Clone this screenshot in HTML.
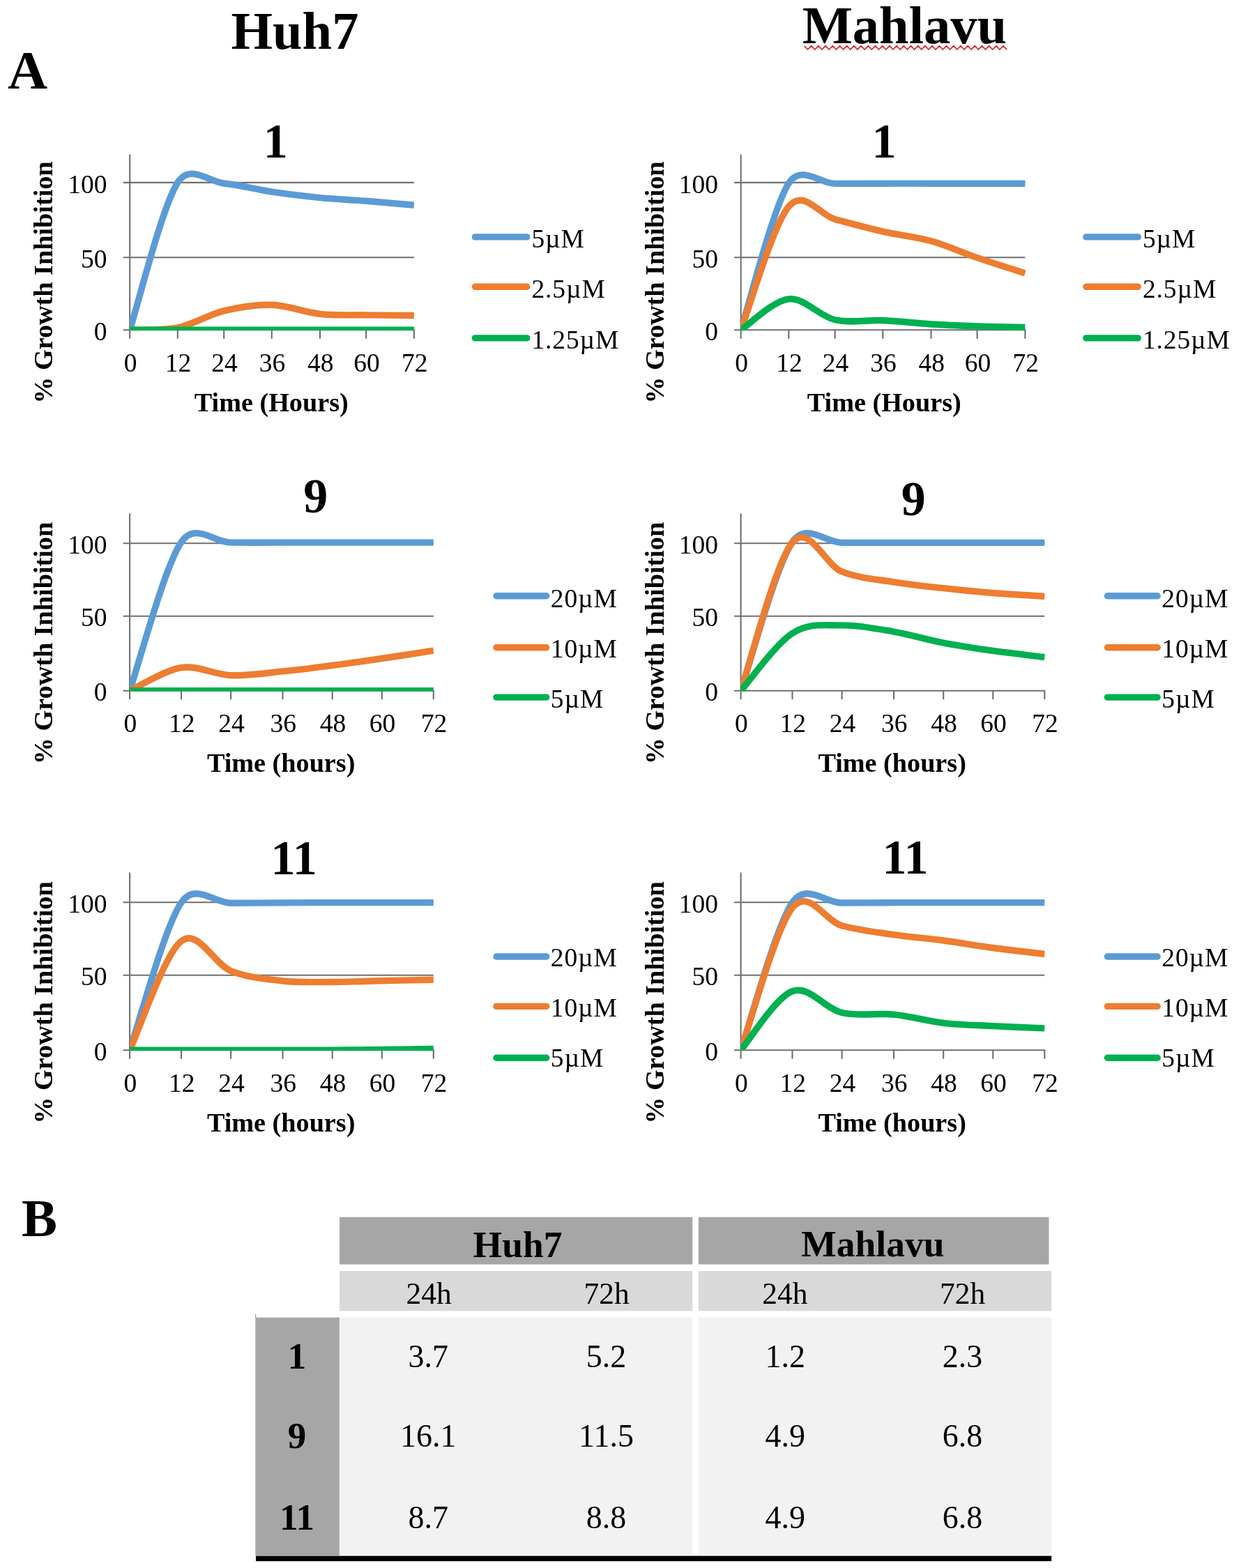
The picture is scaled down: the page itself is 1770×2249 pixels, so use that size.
<!DOCTYPE html><html><head><meta charset="utf-8"><title>Growth inhibition of Huh7 and Mahlavu cells</title><style>
html,body{margin:0;padding:0;background:#fff;width:1770px;height:2249px;overflow:hidden}
svg{display:block}
text{font-family:"Liberation Serif","Times New Roman",Times,serif;fill:#000}
.tk{font-size:37.5px}.lg{font-size:37.5px;letter-spacing:0.9px}.at{font-size:38.2px;font-weight:bold}.ct{font-size:70px;font-weight:bold}
.big{font-size:76.5px;font-weight:bold}.th{font-size:43.5px}.tb{font-size:46px}.tbh{font-size:53.5px;font-weight:bold}.trh{font-size:53px;font-weight:bold}
</style></head><body>
<svg width="1770" height="2249" viewBox="0 0 1770 2249">
<rect width="1770" height="2249" fill="#fff"/>
<text x="423.0" y="69.7" text-anchor="middle" class="big">Huh7</text>
<text x="1297.3" y="62.0" text-anchor="middle" class="big">Mahlavu</text>
<polyline points="1153.50,65.8 1158.60,71.1 1163.70,65.8 1168.80,71.1 1173.90,65.8 1179.00,71.1 1184.10,65.8 1189.20,71.1 1194.30,65.8 1199.40,71.1 1204.50,65.8 1209.60,71.1 1214.70,65.8 1219.80,71.1 1224.90,65.8 1230.00,71.1 1235.10,65.8 1240.20,71.1 1245.30,65.8 1250.40,71.1 1255.50,65.8 1260.60,71.1 1265.70,65.8 1270.80,71.1 1275.90,65.8 1281.00,71.1 1286.10,65.8 1291.20,71.1 1296.30,65.8 1301.40,71.1 1306.50,65.8 1311.60,71.1 1316.70,65.8 1321.80,71.1 1326.90,65.8 1332.00,71.1 1337.10,65.8 1342.20,71.1 1347.30,65.8 1352.40,71.1 1357.50,65.8 1362.60,71.1 1367.70,65.8 1372.80,71.1 1377.90,65.8 1383.00,71.1 1388.10,65.8 1393.20,71.1 1398.30,65.8 1403.40,71.1 1408.50,65.8 1413.60,71.1 1418.70,65.8 1423.80,71.1 1428.90,65.8 1434.00,71.1 1439.10,65.8 1444.20,71.1" fill="none" stroke="#d8282c" stroke-width="1.7"/>
<text x="11.0" y="127.0" class="big" style="font-size:79px">A</text>
<text x="31.0" y="1772.8" class="big">B</text>
<clipPath id="c0"><rect x="186.20" y="215.50" width="408.30" height="258.60"/></clipPath>
<line x1="176.70" y1="369.20" x2="593.90" y2="369.20" stroke="#6f6f6f" stroke-width="2.1"/>
<line x1="176.70" y1="261.90" x2="593.90" y2="261.90" stroke="#6f6f6f" stroke-width="2.1"/>
<line x1="176.70" y1="473.30" x2="594.90" y2="473.30" stroke="#6f6f6f" stroke-width="2.1"/>
<line x1="186.20" y1="221.50" x2="186.20" y2="485.80" stroke="#6f6f6f" stroke-width="2.1"/>
<line x1="254.80" y1="473.30" x2="254.80" y2="485.80" stroke="#6f6f6f" stroke-width="2.1"/>
<line x1="321.20" y1="473.30" x2="321.20" y2="485.80" stroke="#6f6f6f" stroke-width="2.1"/>
<line x1="389.80" y1="473.30" x2="389.80" y2="485.80" stroke="#6f6f6f" stroke-width="2.1"/>
<line x1="459.00" y1="473.30" x2="459.00" y2="485.80" stroke="#6f6f6f" stroke-width="2.1"/>
<line x1="525.10" y1="473.30" x2="525.10" y2="485.80" stroke="#6f6f6f" stroke-width="2.1"/>
<line x1="593.90" y1="473.30" x2="593.90" y2="485.80" stroke="#6f6f6f" stroke-width="2.1"/>
<text x="153.60" y="487.90" text-anchor="end" class="tk">0</text>
<text x="153.60" y="383.80" text-anchor="end" class="tk">50</text>
<text x="153.60" y="276.50" text-anchor="end" class="tk">100</text>
<text x="187.00" y="532.90" text-anchor="middle" class="tk">0</text>
<text x="255.60" y="532.90" text-anchor="middle" class="tk">12</text>
<text x="322.00" y="532.90" text-anchor="middle" class="tk">24</text>
<text x="390.60" y="532.90" text-anchor="middle" class="tk">36</text>
<text x="459.80" y="532.90" text-anchor="middle" class="tk">48</text>
<text x="525.90" y="532.90" text-anchor="middle" class="tk">60</text>
<text x="594.70" y="532.90" text-anchor="middle" class="tk">72</text>
<text x="389.25" y="590.00" text-anchor="middle" class="at">Time (Hours)</text>
<text transform="translate(75.30,405.10) rotate(-90)" text-anchor="middle" class="at yt">% Growth Inhibition</text>
<text x="395.30" y="226.00" text-anchor="middle" class="ct">1</text>
<g clip-path="url(#c0)" fill="none" stroke-width="9.4" stroke-linejoin="round" stroke-linecap="butt">
<path d="M186.20,473.30 C197.63,438.07 232.30,296.95 254.80,261.90 C272.74,233.96 298.70,260.76 321.20,262.97 C343.70,265.19 366.83,271.77 389.80,275.21 C412.77,278.64 436.45,281.39 459.00,283.57 C481.55,285.76 502.62,286.51 525.10,288.30 C547.58,290.08 582.43,293.30 593.90,294.30" stroke="#5B9BD5"/>
<path d="M186.20,473.30 C197.63,472.74 232.30,474.55 254.80,469.97 C277.30,465.39 298.70,451.27 321.20,445.82 C343.70,440.37 366.83,436.52 389.80,437.28 C412.77,438.04 436.45,447.97 459.00,450.40 C481.55,452.83 502.62,451.51 525.10,451.86 C547.58,452.20 582.43,452.38 593.90,452.48" stroke="#ED7D31"/>
<path d="M186.20,473.30 C197.63,473.30 232.30,473.30 254.80,473.30 C277.30,473.30 298.70,473.30 321.20,473.30 C343.70,473.30 366.83,473.30 389.80,473.30 C412.77,473.30 436.45,473.30 459.00,473.30 C481.55,473.30 502.62,473.30 525.10,473.30 C547.58,473.30 582.43,473.30 593.90,473.30" stroke="#00B050"/>
</g>
<line x1="681.40" y1="339.90" x2="755.80" y2="339.90" stroke="#5B9BD5" stroke-width="9.4" stroke-linecap="round"/>
<text x="762.40" y="354.50" class="lg">5µM</text>
<line x1="681.40" y1="411.20" x2="755.80" y2="411.20" stroke="#ED7D31" stroke-width="9.4" stroke-linecap="round"/>
<text x="762.40" y="427.00" class="lg">2.5µM</text>
<line x1="681.40" y1="484.90" x2="755.80" y2="484.90" stroke="#00B050" stroke-width="9.4" stroke-linecap="round"/>
<text x="762.40" y="500.00" class="lg">1.25µM</text>
<clipPath id="c1"><rect x="1062.70" y="215.50" width="408.30" height="258.60"/></clipPath>
<line x1="1053.20" y1="369.20" x2="1470.40" y2="369.20" stroke="#6f6f6f" stroke-width="2.1"/>
<line x1="1053.20" y1="261.90" x2="1470.40" y2="261.90" stroke="#6f6f6f" stroke-width="2.1"/>
<line x1="1053.20" y1="473.30" x2="1471.40" y2="473.30" stroke="#6f6f6f" stroke-width="2.1"/>
<line x1="1062.70" y1="221.50" x2="1062.70" y2="485.80" stroke="#6f6f6f" stroke-width="2.1"/>
<line x1="1131.30" y1="473.30" x2="1131.30" y2="485.80" stroke="#6f6f6f" stroke-width="2.1"/>
<line x1="1197.70" y1="473.30" x2="1197.70" y2="485.80" stroke="#6f6f6f" stroke-width="2.1"/>
<line x1="1266.30" y1="473.30" x2="1266.30" y2="485.80" stroke="#6f6f6f" stroke-width="2.1"/>
<line x1="1335.50" y1="473.30" x2="1335.50" y2="485.80" stroke="#6f6f6f" stroke-width="2.1"/>
<line x1="1401.60" y1="473.30" x2="1401.60" y2="485.80" stroke="#6f6f6f" stroke-width="2.1"/>
<line x1="1470.40" y1="473.30" x2="1470.40" y2="485.80" stroke="#6f6f6f" stroke-width="2.1"/>
<text x="1030.10" y="487.90" text-anchor="end" class="tk">0</text>
<text x="1030.10" y="383.80" text-anchor="end" class="tk">50</text>
<text x="1030.10" y="276.50" text-anchor="end" class="tk">100</text>
<text x="1063.50" y="532.90" text-anchor="middle" class="tk">0</text>
<text x="1132.10" y="532.90" text-anchor="middle" class="tk">12</text>
<text x="1198.50" y="532.90" text-anchor="middle" class="tk">24</text>
<text x="1267.10" y="532.90" text-anchor="middle" class="tk">36</text>
<text x="1336.30" y="532.90" text-anchor="middle" class="tk">48</text>
<text x="1402.40" y="532.90" text-anchor="middle" class="tk">60</text>
<text x="1471.20" y="532.90" text-anchor="middle" class="tk">72</text>
<text x="1268.25" y="590.00" text-anchor="middle" class="at">Time (Hours)</text>
<text transform="translate(951.80,405.10) rotate(-90)" text-anchor="middle" class="at yt">% Growth Inhibition</text>
<text x="1268.10" y="226.00" text-anchor="middle" class="ct">1</text>
<g clip-path="url(#c1)" fill="none" stroke-width="9.4" stroke-linejoin="round" stroke-linecap="butt">
<path d="M1062.70,473.30 C1074.13,438.25 1108.80,297.96 1131.30,262.97 C1149.26,235.05 1175.20,263.37 1197.70,263.40 C1220.20,263.44 1243.33,263.22 1266.30,263.19 C1289.27,263.15 1312.95,263.19 1335.50,263.19 C1358.05,263.19 1379.12,263.19 1401.60,263.19 C1424.08,263.19 1458.93,263.19 1470.40,263.19" stroke="#5B9BD5"/>
<path d="M1062.70,473.30 C1074.13,443.79 1108.80,322.71 1131.30,296.24 C1153.60,270.00 1175.20,308.50 1197.70,314.48 C1220.20,320.45 1243.33,326.85 1266.30,332.07 C1289.27,337.30 1312.95,339.55 1335.50,345.81 C1358.05,352.07 1379.12,361.94 1401.60,369.62 C1424.08,377.30 1458.93,388.18 1470.40,391.89" stroke="#ED7D31"/>
<path d="M1062.70,473.30 C1074.13,465.91 1108.80,431.38 1131.30,428.95 C1153.80,426.52 1175.20,453.63 1197.70,458.73 C1220.20,463.83 1243.33,458.52 1266.30,459.56 C1289.27,460.60 1312.95,463.58 1335.50,464.97 C1358.05,466.36 1379.12,467.12 1401.60,467.89 C1424.08,468.65 1458.93,469.27 1470.40,469.55" stroke="#00B050"/>
</g>
<line x1="1557.90" y1="339.90" x2="1632.30" y2="339.90" stroke="#5B9BD5" stroke-width="9.4" stroke-linecap="round"/>
<text x="1638.90" y="354.50" class="lg">5µM</text>
<line x1="1557.90" y1="411.20" x2="1632.30" y2="411.20" stroke="#ED7D31" stroke-width="9.4" stroke-linecap="round"/>
<text x="1638.90" y="427.00" class="lg">2.5µM</text>
<line x1="1557.90" y1="484.90" x2="1632.30" y2="484.90" stroke="#00B050" stroke-width="9.4" stroke-linecap="round"/>
<text x="1638.90" y="500.00" class="lg">1.25µM</text>
<clipPath id="c2"><rect x="186.10" y="730.50" width="436.30" height="261.00"/></clipPath>
<line x1="176.60" y1="883.80" x2="621.80" y2="883.80" stroke="#6f6f6f" stroke-width="2.1"/>
<line x1="176.60" y1="779.20" x2="621.80" y2="779.20" stroke="#6f6f6f" stroke-width="2.1"/>
<line x1="176.60" y1="990.70" x2="622.80" y2="990.70" stroke="#6f6f6f" stroke-width="2.1"/>
<line x1="186.10" y1="736.50" x2="186.10" y2="1003.20" stroke="#6f6f6f" stroke-width="2.1"/>
<line x1="260.00" y1="990.70" x2="260.00" y2="1003.20" stroke="#6f6f6f" stroke-width="2.1"/>
<line x1="331.10" y1="990.70" x2="331.10" y2="1003.20" stroke="#6f6f6f" stroke-width="2.1"/>
<line x1="405.50" y1="990.70" x2="405.50" y2="1003.20" stroke="#6f6f6f" stroke-width="2.1"/>
<line x1="476.70" y1="990.70" x2="476.70" y2="1003.20" stroke="#6f6f6f" stroke-width="2.1"/>
<line x1="547.80" y1="990.70" x2="547.80" y2="1003.20" stroke="#6f6f6f" stroke-width="2.1"/>
<line x1="621.80" y1="990.70" x2="621.80" y2="1003.20" stroke="#6f6f6f" stroke-width="2.1"/>
<text x="153.50" y="1005.30" text-anchor="end" class="tk">0</text>
<text x="153.50" y="898.40" text-anchor="end" class="tk">50</text>
<text x="153.50" y="793.80" text-anchor="end" class="tk">100</text>
<text x="186.90" y="1050.30" text-anchor="middle" class="tk">0</text>
<text x="260.80" y="1050.30" text-anchor="middle" class="tk">12</text>
<text x="331.90" y="1050.30" text-anchor="middle" class="tk">24</text>
<text x="406.30" y="1050.30" text-anchor="middle" class="tk">36</text>
<text x="477.50" y="1050.30" text-anchor="middle" class="tk">48</text>
<text x="548.60" y="1050.30" text-anchor="middle" class="tk">60</text>
<text x="622.60" y="1050.30" text-anchor="middle" class="tk">72</text>
<text x="403.15" y="1107.40" text-anchor="middle" class="at">Time (hours)</text>
<text transform="translate(75.20,922.50) rotate(-90)" text-anchor="middle" class="at yt">% Growth Inhibition</text>
<text x="452.80" y="735.20" text-anchor="middle" class="ct">9</text>
<g clip-path="url(#c2)" fill="none" stroke-width="9.4" stroke-linejoin="round" stroke-linecap="butt">
<path d="M186.10,990.70 C198.42,955.17 235.83,812.95 260.00,777.53 C280.04,748.16 306.85,778.05 331.10,778.15 C355.35,778.26 381.23,778.15 405.50,778.15 C429.77,778.15 452.98,778.15 476.70,778.15 C500.42,778.15 523.62,778.15 547.80,778.15 C571.98,778.15 609.47,778.15 621.80,778.15" stroke="#5B9BD5"/>
<path d="M186.10,990.70 C198.42,985.18 235.83,961.23 260.00,957.56 C284.17,953.89 306.85,967.79 331.10,968.68 C355.35,969.57 381.23,965.29 405.50,962.91 C429.77,960.52 452.98,957.42 476.70,954.35 C500.42,951.29 523.62,948.05 547.80,944.52 C571.98,940.99 609.47,935.08 621.80,933.19" stroke="#ED7D31"/>
<path d="M186.10,990.70 C198.42,990.70 235.83,990.70 260.00,990.70 C284.17,990.70 306.85,990.70 331.10,990.70 C355.35,990.70 381.23,990.70 405.50,990.70 C429.77,990.70 452.98,990.70 476.70,990.70 C500.42,990.70 523.62,990.70 547.80,990.70 C571.98,990.70 609.47,990.70 621.80,990.70" stroke="#00B050"/>
</g>
<line x1="711.90" y1="854.70" x2="783.70" y2="854.70" stroke="#5B9BD5" stroke-width="9.4" stroke-linecap="round"/>
<text x="789.80" y="870.60" class="lg">20µM</text>
<line x1="711.90" y1="928.70" x2="783.70" y2="928.70" stroke="#ED7D31" stroke-width="9.4" stroke-linecap="round"/>
<text x="789.80" y="943.00" class="lg">10µM</text>
<line x1="711.90" y1="1000.10" x2="783.70" y2="1000.10" stroke="#00B050" stroke-width="9.4" stroke-linecap="round"/>
<text x="789.80" y="1014.90" class="lg">5µM</text>
<clipPath id="c3"><rect x="1062.60" y="730.50" width="436.30" height="261.00"/></clipPath>
<line x1="1053.10" y1="883.80" x2="1498.30" y2="883.80" stroke="#6f6f6f" stroke-width="2.1"/>
<line x1="1053.10" y1="779.20" x2="1498.30" y2="779.20" stroke="#6f6f6f" stroke-width="2.1"/>
<line x1="1053.10" y1="990.70" x2="1499.30" y2="990.70" stroke="#6f6f6f" stroke-width="2.1"/>
<line x1="1062.60" y1="736.50" x2="1062.60" y2="1003.20" stroke="#6f6f6f" stroke-width="2.1"/>
<line x1="1136.50" y1="990.70" x2="1136.50" y2="1003.20" stroke="#6f6f6f" stroke-width="2.1"/>
<line x1="1207.60" y1="990.70" x2="1207.60" y2="1003.20" stroke="#6f6f6f" stroke-width="2.1"/>
<line x1="1282.00" y1="990.70" x2="1282.00" y2="1003.20" stroke="#6f6f6f" stroke-width="2.1"/>
<line x1="1353.20" y1="990.70" x2="1353.20" y2="1003.20" stroke="#6f6f6f" stroke-width="2.1"/>
<line x1="1424.30" y1="990.70" x2="1424.30" y2="1003.20" stroke="#6f6f6f" stroke-width="2.1"/>
<line x1="1498.30" y1="990.70" x2="1498.30" y2="1003.20" stroke="#6f6f6f" stroke-width="2.1"/>
<text x="1030.00" y="1005.30" text-anchor="end" class="tk">0</text>
<text x="1030.00" y="898.40" text-anchor="end" class="tk">50</text>
<text x="1030.00" y="793.80" text-anchor="end" class="tk">100</text>
<text x="1063.40" y="1050.30" text-anchor="middle" class="tk">0</text>
<text x="1137.30" y="1050.30" text-anchor="middle" class="tk">12</text>
<text x="1208.40" y="1050.30" text-anchor="middle" class="tk">24</text>
<text x="1282.80" y="1050.30" text-anchor="middle" class="tk">36</text>
<text x="1354.00" y="1050.30" text-anchor="middle" class="tk">48</text>
<text x="1425.10" y="1050.30" text-anchor="middle" class="tk">60</text>
<text x="1499.10" y="1050.30" text-anchor="middle" class="tk">72</text>
<text x="1279.65" y="1107.40" text-anchor="middle" class="at">Time (hours)</text>
<text transform="translate(951.70,922.50) rotate(-90)" text-anchor="middle" class="at yt">% Growth Inhibition</text>
<text x="1310.20" y="739.20" text-anchor="middle" class="ct">9</text>
<g clip-path="url(#c3)" fill="none" stroke-width="9.4" stroke-linejoin="round" stroke-linecap="butt">
<path d="M1062.60,990.70 C1074.92,955.17 1112.33,812.92 1136.50,777.53 C1156.55,748.17 1183.35,778.22 1207.60,778.36 C1231.85,778.50 1257.73,778.36 1282.00,778.36 C1306.27,778.36 1329.48,778.36 1353.20,778.36 C1376.92,778.36 1400.12,778.36 1424.30,778.36 C1448.48,778.36 1485.97,778.36 1498.30,778.36" stroke="#5B9BD5"/>
<path d="M1062.60,990.70 C1074.92,955.28 1112.33,806.61 1136.50,778.15 C1160.67,749.70 1183.35,810.55 1207.60,819.99 C1231.85,829.44 1257.73,830.91 1282.00,834.85 C1306.27,838.79 1329.48,841.02 1353.20,843.63 C1376.92,846.25 1400.12,848.58 1424.30,850.54 C1448.48,852.49 1485.97,854.55 1498.30,855.35" stroke="#ED7D31"/>
<path d="M1062.60,990.70 C1074.92,976.98 1112.33,924.03 1136.50,908.39 C1160.67,892.74 1183.35,897.23 1207.60,896.84 C1231.85,896.45 1257.73,901.83 1282.00,906.04 C1306.27,910.24 1329.48,917.51 1353.20,922.07 C1376.92,926.63 1400.12,929.98 1424.30,933.40 C1448.48,936.82 1485.97,941.06 1498.30,942.60" stroke="#00B050"/>
</g>
<line x1="1588.40" y1="854.70" x2="1660.20" y2="854.70" stroke="#5B9BD5" stroke-width="9.4" stroke-linecap="round"/>
<text x="1666.30" y="870.60" class="lg">20µM</text>
<line x1="1588.40" y1="928.70" x2="1660.20" y2="928.70" stroke="#ED7D31" stroke-width="9.4" stroke-linecap="round"/>
<text x="1666.30" y="943.00" class="lg">10µM</text>
<line x1="1588.40" y1="1000.10" x2="1660.20" y2="1000.10" stroke="#00B050" stroke-width="9.4" stroke-linecap="round"/>
<text x="1666.30" y="1014.90" class="lg">5µM</text>
<clipPath id="c4"><rect x="186.10" y="1245.50" width="436.30" height="261.50"/></clipPath>
<line x1="176.60" y1="1398.80" x2="621.80" y2="1398.80" stroke="#6f6f6f" stroke-width="2.1"/>
<line x1="176.60" y1="1294.20" x2="621.80" y2="1294.20" stroke="#6f6f6f" stroke-width="2.1"/>
<line x1="176.60" y1="1506.20" x2="622.80" y2="1506.20" stroke="#6f6f6f" stroke-width="2.1"/>
<line x1="186.10" y1="1251.50" x2="186.10" y2="1518.70" stroke="#6f6f6f" stroke-width="2.1"/>
<line x1="260.00" y1="1506.20" x2="260.00" y2="1518.70" stroke="#6f6f6f" stroke-width="2.1"/>
<line x1="331.10" y1="1506.20" x2="331.10" y2="1518.70" stroke="#6f6f6f" stroke-width="2.1"/>
<line x1="405.50" y1="1506.20" x2="405.50" y2="1518.70" stroke="#6f6f6f" stroke-width="2.1"/>
<line x1="476.70" y1="1506.20" x2="476.70" y2="1518.70" stroke="#6f6f6f" stroke-width="2.1"/>
<line x1="547.80" y1="1506.20" x2="547.80" y2="1518.70" stroke="#6f6f6f" stroke-width="2.1"/>
<line x1="621.80" y1="1506.20" x2="621.80" y2="1518.70" stroke="#6f6f6f" stroke-width="2.1"/>
<text x="153.50" y="1520.80" text-anchor="end" class="tk">0</text>
<text x="153.50" y="1413.40" text-anchor="end" class="tk">50</text>
<text x="153.50" y="1308.80" text-anchor="end" class="tk">100</text>
<text x="186.90" y="1565.80" text-anchor="middle" class="tk">0</text>
<text x="260.80" y="1565.80" text-anchor="middle" class="tk">12</text>
<text x="331.90" y="1565.80" text-anchor="middle" class="tk">24</text>
<text x="406.30" y="1565.80" text-anchor="middle" class="tk">36</text>
<text x="477.50" y="1565.80" text-anchor="middle" class="tk">48</text>
<text x="548.60" y="1565.80" text-anchor="middle" class="tk">60</text>
<text x="622.60" y="1565.80" text-anchor="middle" class="tk">72</text>
<text x="403.15" y="1622.90" text-anchor="middle" class="at">Time (hours)</text>
<text transform="translate(75.20,1438.00) rotate(-90)" text-anchor="middle" class="at yt">% Growth Inhibition</text>
<text x="421.60" y="1253.60" text-anchor="middle" class="ct">11</text>
<g clip-path="url(#c4)" fill="none" stroke-width="9.4" stroke-linejoin="round" stroke-linecap="butt">
<path d="M186.10,1506.20 C198.42,1470.94 235.83,1329.78 260.00,1294.62 C280.14,1265.32 306.85,1295.21 331.10,1295.25 C355.35,1295.28 381.23,1294.93 405.50,1294.83 C429.77,1294.72 452.98,1294.65 476.70,1294.62 C500.42,1294.58 523.62,1294.62 547.80,1294.62 C571.98,1294.62 609.47,1294.62 621.80,1294.62" stroke="#5B9BD5"/>
<path d="M186.10,1506.20 C198.42,1480.14 235.83,1368.79 260.00,1349.85 C284.17,1330.90 306.85,1383.00 331.10,1392.52 C355.35,1402.04 381.23,1404.31 405.50,1406.96 C429.77,1409.62 452.98,1408.50 476.70,1408.47 C500.42,1408.43 523.62,1407.28 547.80,1406.75 C571.98,1406.21 609.47,1405.49 621.80,1405.24" stroke="#ED7D31"/>
<path d="M186.10,1506.20 C198.42,1506.20 235.83,1506.20 260.00,1506.20 C284.17,1506.20 306.85,1506.20 331.10,1506.20 C355.35,1506.20 381.23,1506.20 405.50,1506.20 C429.77,1506.20 452.98,1506.31 476.70,1506.20 C500.42,1506.09 523.62,1505.84 547.80,1505.56 C571.98,1505.27 609.47,1504.66 621.80,1504.48" stroke="#00B050"/>
</g>
<line x1="711.90" y1="1372.00" x2="783.70" y2="1372.00" stroke="#5B9BD5" stroke-width="9.4" stroke-linecap="round"/>
<text x="789.80" y="1385.70" class="lg">20µM</text>
<line x1="711.90" y1="1443.40" x2="783.70" y2="1443.40" stroke="#ED7D31" stroke-width="9.4" stroke-linecap="round"/>
<text x="789.80" y="1458.00" class="lg">10µM</text>
<line x1="711.90" y1="1517.30" x2="783.70" y2="1517.30" stroke="#00B050" stroke-width="9.4" stroke-linecap="round"/>
<text x="789.80" y="1529.90" class="lg">5µM</text>
<clipPath id="c5"><rect x="1062.60" y="1245.50" width="436.30" height="261.50"/></clipPath>
<line x1="1053.10" y1="1398.80" x2="1498.30" y2="1398.80" stroke="#6f6f6f" stroke-width="2.1"/>
<line x1="1053.10" y1="1294.20" x2="1498.30" y2="1294.20" stroke="#6f6f6f" stroke-width="2.1"/>
<line x1="1053.10" y1="1506.20" x2="1499.30" y2="1506.20" stroke="#6f6f6f" stroke-width="2.1"/>
<line x1="1062.60" y1="1251.50" x2="1062.60" y2="1518.70" stroke="#6f6f6f" stroke-width="2.1"/>
<line x1="1136.50" y1="1506.20" x2="1136.50" y2="1518.70" stroke="#6f6f6f" stroke-width="2.1"/>
<line x1="1207.60" y1="1506.20" x2="1207.60" y2="1518.70" stroke="#6f6f6f" stroke-width="2.1"/>
<line x1="1282.00" y1="1506.20" x2="1282.00" y2="1518.70" stroke="#6f6f6f" stroke-width="2.1"/>
<line x1="1353.20" y1="1506.20" x2="1353.20" y2="1518.70" stroke="#6f6f6f" stroke-width="2.1"/>
<line x1="1424.30" y1="1506.20" x2="1424.30" y2="1518.70" stroke="#6f6f6f" stroke-width="2.1"/>
<line x1="1498.30" y1="1506.20" x2="1498.30" y2="1518.70" stroke="#6f6f6f" stroke-width="2.1"/>
<text x="1030.00" y="1520.80" text-anchor="end" class="tk">0</text>
<text x="1030.00" y="1413.40" text-anchor="end" class="tk">50</text>
<text x="1030.00" y="1308.80" text-anchor="end" class="tk">100</text>
<text x="1063.40" y="1565.80" text-anchor="middle" class="tk">0</text>
<text x="1137.30" y="1565.80" text-anchor="middle" class="tk">12</text>
<text x="1208.40" y="1565.80" text-anchor="middle" class="tk">24</text>
<text x="1282.80" y="1565.80" text-anchor="middle" class="tk">36</text>
<text x="1354.00" y="1565.80" text-anchor="middle" class="tk">48</text>
<text x="1425.10" y="1565.80" text-anchor="middle" class="tk">60</text>
<text x="1499.10" y="1565.80" text-anchor="middle" class="tk">72</text>
<text x="1279.65" y="1622.90" text-anchor="middle" class="at">Time (hours)</text>
<text transform="translate(951.70,1438.00) rotate(-90)" text-anchor="middle" class="at yt">% Growth Inhibition</text>
<text x="1298.50" y="1253.30" text-anchor="middle" class="ct">11</text>
<g clip-path="url(#c5)" fill="none" stroke-width="9.4" stroke-linejoin="round" stroke-linecap="butt">
<path d="M1062.60,1506.20 C1074.92,1470.94 1112.33,1329.81 1136.50,1294.62 C1156.62,1265.31 1183.35,1295.04 1207.60,1295.04 C1231.85,1295.04 1257.73,1294.69 1282.00,1294.62 C1306.27,1294.55 1329.48,1294.62 1353.20,1294.62 C1376.92,1294.62 1400.12,1294.62 1424.30,1294.62 C1448.48,1294.62 1485.97,1294.62 1498.30,1294.62" stroke="#5B9BD5"/>
<path d="M1062.60,1506.20 C1074.92,1472.16 1112.33,1331.70 1136.50,1301.94 C1160.34,1272.59 1183.35,1321.22 1207.60,1327.67 C1231.85,1334.12 1257.73,1337.09 1282.00,1340.64 C1306.27,1344.20 1329.48,1345.87 1353.20,1349.01 C1376.92,1352.15 1400.12,1356.23 1424.30,1359.47 C1448.48,1362.71 1485.97,1366.97 1498.30,1368.47" stroke="#ED7D31"/>
<path d="M1062.60,1506.20 C1074.92,1492.13 1112.33,1430.73 1136.50,1421.78 C1160.67,1412.83 1183.35,1446.95 1207.60,1452.50 C1231.85,1458.05 1257.73,1452.61 1282.00,1455.08 C1306.27,1457.55 1329.48,1464.56 1353.20,1467.32 C1376.92,1470.08 1400.12,1470.36 1424.30,1471.62 C1448.48,1472.87 1485.97,1474.30 1498.30,1474.84" stroke="#00B050"/>
</g>
<line x1="1588.40" y1="1372.00" x2="1660.20" y2="1372.00" stroke="#5B9BD5" stroke-width="9.4" stroke-linecap="round"/>
<text x="1666.30" y="1385.70" class="lg">20µM</text>
<line x1="1588.40" y1="1443.40" x2="1660.20" y2="1443.40" stroke="#ED7D31" stroke-width="9.4" stroke-linecap="round"/>
<text x="1666.30" y="1458.00" class="lg">10µM</text>
<line x1="1588.40" y1="1517.30" x2="1660.20" y2="1517.30" stroke="#00B050" stroke-width="9.4" stroke-linecap="round"/>
<text x="1666.30" y="1529.90" class="lg">5µM</text>
<rect x="487.1" y="1745.7" width="506.1" height="67.8" fill="#a6a6a6"/>
<rect x="1001.9" y="1745.7" width="502.6" height="67.8" fill="#a6a6a6"/>
<rect x="487.1" y="1823.0" width="506.1" height="57.3" fill="#d9d9d9"/>
<rect x="1001.9" y="1823.0" width="506.3" height="57.3" fill="#d9d9d9"/>
<rect x="366.3" y="1889.7" width="120.6" height="341.3" fill="#a6a6a6"/>
<rect x="486.9" y="1889.7" width="506.3" height="340.1" fill="#f2f2f2"/>
<rect x="1001.9" y="1889.7" width="506.5" height="340.1" fill="#f2f2f2"/>
<line x1="366.6" y1="1884.5" x2="366.6" y2="1890" stroke="#9a9a9a" stroke-width="1.2"/>
<rect x="367.0" y="2231.6" width="1141.2" height="7.6" fill="#000"/>
<text x="742.5" y="1802.5" text-anchor="middle" class="tbh">Huh7</text>
<text x="1251.9" y="1802.4" text-anchor="middle" class="tbh">Mahlavu</text>
<text x="615.2" y="1870.0" text-anchor="middle" class="th">24h</text>
<text x="870.0" y="1870.0" text-anchor="middle" class="th">72h</text>
<text x="1125.9" y="1870.0" text-anchor="middle" class="th">24h</text>
<text x="1380.5" y="1870.0" text-anchor="middle" class="th">72h</text>
<text x="426.0" y="1963.2" text-anchor="middle" class="trh">1</text>
<text x="614.2" y="1961.2" text-anchor="middle" class="tb">3.7</text>
<text x="869.5" y="1961.2" text-anchor="middle" class="tb">5.2</text>
<text x="1126.2" y="1961.2" text-anchor="middle" class="tb">1.2</text>
<text x="1380.5" y="1961.2" text-anchor="middle" class="tb">2.3</text>
<text x="426.0" y="2077.2" text-anchor="middle" class="trh">9</text>
<text x="614.2" y="2075.2" text-anchor="middle" class="tb">16.1</text>
<text x="869.5" y="2075.2" text-anchor="middle" class="tb">11.5</text>
<text x="1126.2" y="2075.2" text-anchor="middle" class="tb">4.9</text>
<text x="1380.5" y="2075.2" text-anchor="middle" class="tb">6.8</text>
<text x="426.0" y="2194.4" text-anchor="middle" class="trh">11</text>
<text x="614.2" y="2192.4" text-anchor="middle" class="tb">8.7</text>
<text x="869.5" y="2192.4" text-anchor="middle" class="tb">8.8</text>
<text x="1126.2" y="2192.4" text-anchor="middle" class="tb">4.9</text>
<text x="1380.5" y="2192.4" text-anchor="middle" class="tb">6.8</text>
</svg></body></html>
